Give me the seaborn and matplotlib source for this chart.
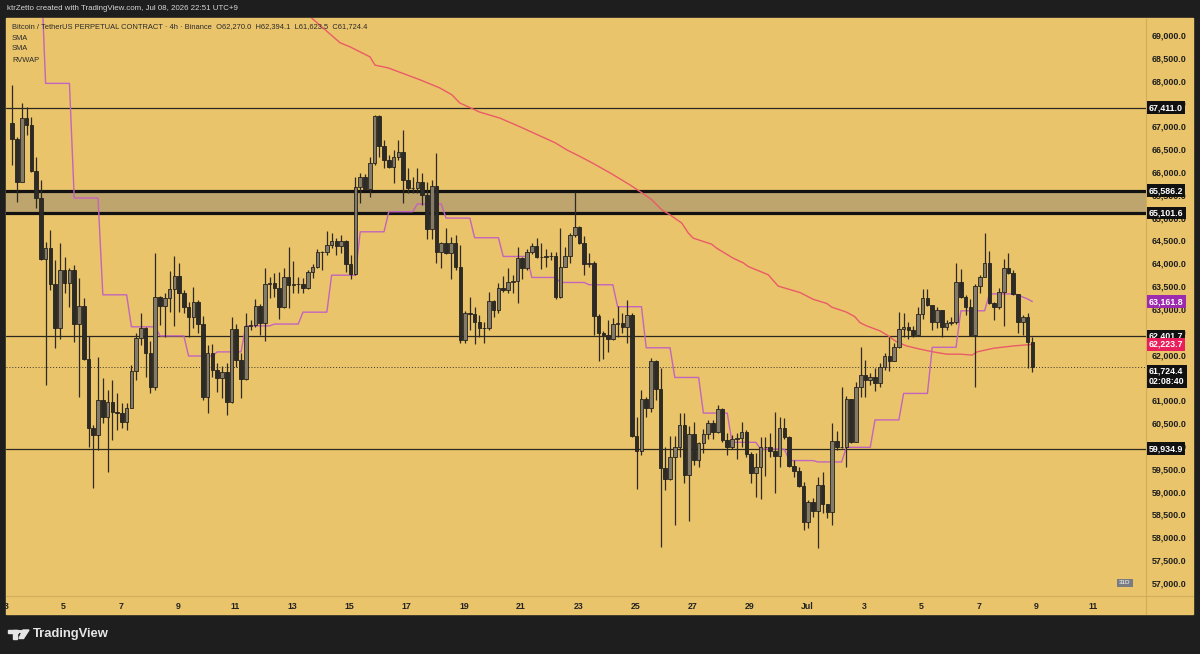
import numpy as np
import pandas as pd
import matplotlib
matplotlib.use('Agg')
import matplotlib.pyplot as plt
import matplotlib.patches as mpatches
import matplotlib.transforms as mtransforms
from matplotlib.lines import Line2D
import seaborn as sns

# BTCUSDT perp, 4h candles
first_open = 67070
closes = [66720, 65780, 67180, 67030, 66020, 65430, 64100, 64340, 63550, 62590,
          63850, 63570, 63850, 62670, 63070, 61910, 60400, 60240, 61010, 60640,
          60960, 60750, 60730, 60530, 60830, 61640, 62370, 62590, 62040, 61290,
          63260, 63070, 63240, 63440, 63720, 63350, 63040, 62830, 63150, 62670,
          61070, 62040, 61670, 61490, 61620, 60960, 62560, 61880, 61470, 62630,
          62650, 63070, 62690, 63550, 63570, 63460, 63040, 63700, 63530, 63550,
          63540, 63460, 63810, 63920, 64250, 64240, 64400, 64490, 64380, 64490,
          63990, 63770, 65670, 65890, 65630, 66200, 67230, 66570, 66260, 66110,
          66330, 66440, 65830, 65650, 65640, 65780, 65500, 64750, 65690, 64250,
          64450, 64230, 64450, 63920, 62320, 62910, 62900, 62720, 62590, 62580,
          63180, 62980, 63460, 63420, 63590, 63610, 64120, 63900, 64250, 64380,
          64140, 64130, 64160, 64150, 63260, 63920, 64160, 64620, 64800, 64450,
          63990, 64010, 62850, 62480, 62430, 62340, 62670, 62690, 62610, 62870,
          60220, 59890, 61030, 60830, 61860, 61250, 59520, 59280, 59760, 59980,
          60460, 59370, 60260, 59690, 60070, 60260, 60500, 60310, 60810, 60130,
          59980, 60150, 60180, 60310, 59830, 59410, 59540, 59980, 59970, 59890,
          59780, 60400, 60200, 59560, 59450, 59130, 58340, 58770, 58580, 59150,
          58730, 58560, 60110, 59980, 59970, 61030, 60090, 61290, 61560, 61450,
          61510, 61380, 61730, 61970, 61860, 62170, 62560, 62610, 62540, 62430,
          62890, 63240, 63090, 62720, 62980, 62610, 62690, 62720, 63590, 63260,
          63040, 62430, 63500, 63700, 64010, 63130, 63040, 63370, 63900, 63790,
          63330, 62720, 62830, 62270, 61724.4]
highs = [67910, 66770, 67510, 67420, 67200, 66330, 65830, 64470, 64730, 64070,
         64450, 64140, 63900, 63960, 63680, 63240, 62410, 60460, 61950, 61490,
         61230, 61450, 61160, 60940, 60940, 61780, 62480, 62910, 62610, 62300,
         64230, 63280, 63350, 63830, 64160, 64010, 63420, 63150, 63480, 63200,
         62850, 62210, 62230, 61820, 61750, 61820, 62830, 62670, 62040, 62910,
         62760, 63220, 63110, 63900, 63700, 63790, 63810, 63900, 64360, 64050,
         63700, 63680, 63850, 63990, 64310, 64270, 64710, 64660, 64560, 64620,
         64510, 64180, 65890, 65980, 65960, 66330, 67250, 67250, 66700, 66370,
         66480, 66700, 66920, 66090, 65890, 66090, 65980, 65780, 65830, 66420,
         64460, 64770, 64580, 64620, 64400, 62960, 63260, 63040, 62870, 62720,
         63370, 63200, 63570, 63720, 63900, 63740, 64360, 64140, 64310, 64450,
         64560, 64450, 64310, 64250, 64250, 64770, 64360, 64660, 65560, 64820,
         64600, 64230, 64050, 62890, 62520, 62760, 62800, 63070, 62910, 63200,
         62910, 60640, 61230, 61070, 61930, 61880, 61710, 59980, 60220, 60220,
         60720, 60720, 60440, 60530, 60090, 60370, 60570, 60570, 60900, 60830,
         60290, 60240, 60290, 60530, 60350, 59870, 59850, 60200, 60200, 60290,
         60750, 60640, 60610, 60220, 59690, 59540, 59210, 58820, 58860, 59320,
         59430, 58730, 60500, 60330, 61290, 61100, 61030, 61400, 62170, 61880,
         61600, 61710, 61820, 62040, 62390, 62260, 62930, 62910, 62720, 62630,
         63040, 63440, 63440, 63090, 63040, 62980, 62760, 62830, 64010, 63880,
         63310, 63220, 63550, 63740, 64660, 64270, 63150, 63460, 64100, 64230,
         63850, 63330, 62870, 62910, 62394.1]
lows = [66150, 65340, 65780, 66810, 66000, 65210, 64080, 61340, 63420, 62150,
        62340, 63350, 63040, 62280, 61070, 61880, 59980, 59080, 59910, 60500,
        59430, 60130, 60350, 60400, 60350, 60830, 61450, 62210, 61510, 61160,
        61230, 62650, 62390, 62930, 62630, 62930, 62910, 62390, 62590, 62480,
        61010, 60720, 61510, 61180, 61050, 60680, 60940, 61730, 61050, 61450,
        62540, 62610, 62430, 62300, 63240, 63260, 62780, 63020, 63020, 63350,
        63350, 63350, 63440, 63680, 63900, 63850, 64180, 64340, 64180, 64230,
        63810, 63660, 63740, 65320, 65610, 65450, 66150, 66330, 66090, 66090,
        65760, 66260, 65320, 65540, 65540, 65540, 65280, 64530, 64530, 64010,
        63900, 64200, 63660, 63850, 62260, 62260, 62540, 62230, 62390, 62260,
        62540, 62830, 62910, 63370, 63350, 63350, 63130, 63660, 63850, 64200,
        64120, 63880, 63920, 64070, 63220, 63240, 63920, 64010, 64580, 64420,
        63740, 63920, 62430, 61860, 61910, 62060, 62320, 62390, 62480, 62260,
        60200, 59060, 59800, 60640, 60750, 61010, 57780, 59040, 59260, 58270,
        59760, 59190, 58360, 59590, 59540, 59850, 60150, 60150, 60290, 60090,
        59800, 59940, 59720, 59980, 59760, 59190, 58880, 58840, 59340, 59760,
        58970, 59540, 60150, 59540, 59320, 59100, 58160, 58210, 58450, 57770,
        58530, 58420, 58270, 59910, 59960, 59540, 60070, 60090, 61070, 61070,
        61340, 61210, 61290, 61670, 61640, 61860, 62150, 62390, 62340, 62390,
        62410, 62780, 63070, 62540, 62590, 62390, 62540, 62650, 62670, 63240,
        62870, 62410, 61290, 63350, 63700, 63110, 62760, 63000, 62630, 63770,
        63310, 62480, 62430, 61710, 61623.5]

# SMA (red) vertices: day of June, value
sma_days = [13.13, 13.68, 14.67, 15.02, 15.72, 15.89, 16.35, 17.46, 18.16, 18.58,
            18.86, 19.56, 20.26, 20.96, 21.66, 22.19, 22.61, 23.06, 23.51, 24.11,
            24.80, 25.33, 25.57, 25.92, 26.21, 26.62, 26.85, 27.02, 27.66, 27.84,
            28.42, 28.77, 28.94, 29.64, 29.99, 30.75, 31.22, 31.69, 31.86, 32.38,
            32.67, 32.85, 33.08, 33.55, 33.84, 34.13, 34.48, 34.95, 35.41, 35.88,
            36.36, 36.77, 36.94, 37.52, 38.21, 38.875]
sma_vals = [69770, 69370, 68830, 68740, 68520, 68340, 68280, 68020, 67840, 67690,
            67510, 67310, 67180, 66990, 66790, 66640, 66480, 66340, 66190, 65980,
            65720, 65500, 65390, 65170, 65060, 64880, 64660, 64550, 64420, 64330,
            64110, 64010, 63930, 63750, 63500, 63360, 63210, 63120, 63040, 62930,
            62830, 62700, 62630, 62520, 62410, 62280, 62190, 62120, 62060, 62010,
            62010, 61990, 62060, 62140, 62190, 62223.7]

# RVWAP (purple): one level per daily session, then the running last session
rvwap_levels = [70500, 67940, 65430, 63310, 62610, 62410, 61970, 62060, 62630, 62670,
                62930, 63740, 64690, 65130, 65300, 64990, 64560, 64150, 63690, 63580,
                63530, 63050, 62150, 61500, 60720, 60080, 59930, 59680, 59650, 59970,
                60570, 61150, 62160, 62960, 63330]
rvwap_counts = [7] + [6] * 34
rvwap_tail = [63310, 63260, 63220, 63161.8]

day_ticks = [3, 5, 7, 9, 11, 13, 15, 17, 19, 21, 23, 25, 27, 29, 31, 33, 35, 37, 39, 41]
day_labels = ['3', '5', '7', '9', '11', '13', '15', '17', '19', '21', '23', '25', '27',
              '29', 'Jul', '3', '5', '7', '9', '11']
price_ticks = list(range(57000, 69001, 500))

res_line = 67411.0
zone_top, zone_bot = 65586.2, 65101.6
mid_line = 62401.7
sup_line = 59934.9
last_price = 61724.4

# candle table
times = pd.date_range('2026-06-03 05:00', periods=len(closes), freq='4h')
df = pd.DataFrame({'close': closes, 'high': highs, 'low': lows})
df['t'] = (times - pd.Timestamp('2026-05-31')) / pd.Timedelta(days=1)
df['open'] = [first_open] + closes[:-1]
df['high'] = np.maximum(df['high'], df[['open', 'close']].max(axis=1))
df['low'] = np.minimum(df['low'], df[['open', 'close']].min(axis=1))
rvwap = np.concatenate([np.repeat(rvwap_levels, rvwap_counts), rvwap_tail])

sns.set_theme(style='white')
plt.rcParams['font.family'] = ['Liberation Sans', 'DejaVu Sans']

BG = '#e9c46b'
W, H = 1200, 654
fx = lambda px: px / W
fy = lambda py: 1 - py / H

fig = plt.figure(figsize=(12, 6.54), dpi=100, facecolor='#1e1e1e')
fig.patches.append(mpatches.Rectangle((fx(6), fy(614)), fx(1193) - fx(6), fy(18) - fy(614),
                                      transform=fig.transFigure, color=BG, zorder=-5))
ax = fig.add_axes([fx(6), fy(596), fx(1146) - fx(6), fy(18) - fy(596)])
ax.set_zorder(2)
ax.set_facecolor(BG)

# zone + levels
ax.axhspan(zone_bot, zone_top, color='#bea46d', zorder=1)
for lvl in [zone_top, zone_bot]:
    ax.axhline(lvl, color='#111111', lw=2.3, zorder=1.6)
for lvl in [res_line, mid_line, sup_line]:
    ax.axhline(lvl, color='#2c2820', lw=0.9, zorder=1.6)
ax.axhline(last_price, color='#3a352c', lw=0.7, ls=(0, (1, 2)), zorder=1.6)

# indicators
sns.lineplot(x=sma_days, y=sma_vals, ax=ax, color='#ea5b68', lw=1.0,
             estimator=None, sort=False, zorder=2)
sns.lineplot(x=df['t'], y=rvwap, ax=ax, color='#c464bd', lw=1.0,
             estimator=None, sort=False, zorder=2)

# candles
up = df['close'] >= df['open']
ax.vlines(df['t'], df['low'], df['high'], color='#2e2a22', lw=0.9, zorder=3)
for mask, fc in [(up, '#847a68'), (~up, '#2c2b28')]:
    d = df[mask]
    ax.bar(d['t'], d['close'] - d['open'], bottom=d['open'], width=0.125,
           color=fc, edgecolor='#26231d', linewidth=0.6, zorder=4)

ax.set_xlim(2.99, 42.85)
ax.set_ylim(56714, 69372)
ax.set_xticks(day_ticks)
ax.set_xticklabels(day_labels)
ax.yaxis.tick_right()
ax.set_yticks(price_ticks)
ax.set_yticklabels([f'{p:,.1f}' for p in price_ticks])
ax.set_xlabel('')
ax.set_ylabel('')
ax.tick_params(axis='x', length=0, pad=4, labelsize=6.3, colors='#222222')
ax.tick_params(axis='y', length=0, pad=4, labelsize=6.4, colors='#1e1e1e')
for lab in ax.get_xticklabels() + ax.get_yticklabels():
    lab.set_fontweight('bold')
for s in ['top', 'left']:
    ax.spines[s].set_visible(False)
for s in ['right', 'bottom']:
    ax.spines[s].set_color('#d1ad5c')
    ax.spines[s].set_linewidth(0.8)
fig.add_artist(Line2D([fx(1146), fx(1193)], [fy(596), fy(596)], color='#d1ad5c', lw=0.8))
fig.add_artist(Line2D([fx(1146), fx(1146)], [fy(596), fy(614)], color='#d1ad5c', lw=0.8))

# price tags on the axis
trans = mtransforms.blended_transform_factory(ax.transAxes, ax.transData)
tags = [(res_line, '67,411.0', '#111111'), (zone_top, '65,586.2', '#111111'),
        (zone_bot, '65,101.6', '#111111'), (rvwap_tail[-1], '63,161.8', '#9c2bb0'),
        (mid_line, '62,401.7', '#111111'), (sma_vals[-1], '62,223.7', '#e91e5a'),
        (sup_line, '59,934.9', '#111111'), (last_price - 200, '61,724.4\n02:08:40', '#111111')]
for price, txt, col in tags:
    ax.text(1.0 + 3 / 1140, price, txt, transform=trans, ha='left', va='center',
            fontsize=6.4, color='white', weight='bold', linespacing=1.2,
            bbox=dict(boxstyle='square,pad=0.22', fc=col, ec='none'),
            clip_on=False, zorder=10)

fig.text(fx(1125), fy(583), '31D', fontsize=4.5, color='white', ha='center', va='center',
         bbox=dict(boxstyle='square,pad=0.3', fc='#7a7c84', ec='none'))

# header and legend text
fig.text(fx(7), fy(9), 'ktrZetto created with TradingView.com, Jul 08, 2026 22:51 UTC+9',
         color='#d6d6d6', fontsize=5.7, va='center')
fig.text(fx(12), fy(27), 'Bitcoin / TetherUS PERPETUAL CONTRACT · 4h · Binance  '
         'O62,270.0  H62,394.1  L61,623.5  C61,724.4',
         color='#2a2a2a', fontsize=5.4, va='center', zorder=5)
for y, name in [(38, 'SMA'), (49, 'SMA'), (60, 'RVWAP')]:
    fig.text(fx(12), fy(y), name, color='#2a2a2a', fontsize=5.4, va='center', zorder=5)

# footer logo
logo = '#e6e6e6'
fig.patches.append(mpatches.Rectangle((fx(8), fy(633)), fx(10), fy(630) - fy(633),
                                      transform=fig.transFigure, color=logo))
fig.patches.append(mpatches.Rectangle((fx(12.7), fy(638.5)), fx(4.6), fy(630) - fy(638.5),
                                      transform=fig.transFigure, color=logo))
fig.patches.append(mpatches.Circle((fx(20.5), fy(631.5)), 1.6 / W,
                                   transform=fig.transFigure, color=logo))
fig.patches.append(mpatches.Polygon([(fx(23), fy(630)), (fx(29), fy(630)),
                                     (fx(23.5), fy(638.5)), (fx(19), fy(638.5))],
                                    closed=True, transform=fig.transFigure, color=logo))
fig.text(fx(33), fy(634), 'TradingView', color=logo, fontsize=9.4, weight='bold', va='center')

fig.savefig('out.png', dpi=100, facecolor=fig.get_facecolor())
